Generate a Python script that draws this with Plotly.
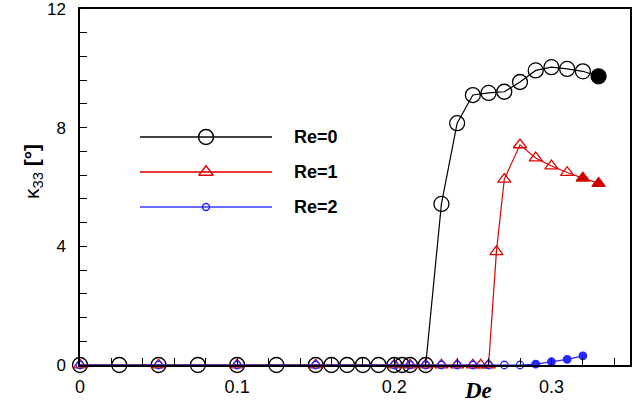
import plotly.graph_objects as go

# Deborah number sweep and twist angle kappa_33 for three Reynolds numbers
de_re0 = [0, 0.025, 0.05, 0.075, 0.1, 0.125, 0.15, 0.16, 0.17, 0.18, 0.19, 0.2,
          0.205, 0.21, 0.22, 0.23, 0.24, 0.25, 0.26, 0.27, 0.28, 0.29, 0.30,
          0.31, 0.32, 0.33]
k_re0 = [0, 0, 0, 0, 0, 0, 0, 0, 0, 0, 0, 0, 0, 0, 0, 5.43, 8.15, 9.10, 9.17,
         9.21, 9.54, 9.93, 10.04, 9.98, 9.90, 9.73]

de_re1 = [0, 0.05, 0.1, 0.15, 0.2, 0.21, 0.22, 0.23, 0.24, 0.25, 0.255, 0.26,
          0.265, 0.27, 0.28, 0.29, 0.30, 0.31, 0.32, 0.33]
k_re1 = [0, 0, 0, 0, 0, 0, 0, 0, 0, 0, 0, 0, 3.82, 6.26, 7.42, 6.98, 6.71,
         6.49, 6.30, 6.12]

de_re2 = [0, 0.05, 0.1, 0.15, 0.2, 0.21, 0.22, 0.23, 0.24, 0.25, 0.26, 0.27,
          0.28, 0.29, 0.30, 0.31, 0.32]
k_re2 = [0, 0, 0, 0, 0, 0, 0, 0, 0, 0, 0, 0, 0, 0.03, 0.11, 0.19, 0.31]

# points from this De onward are drawn with solid markers
solid_from = {"Re=0": 0.33, "Re=1": 0.32, "Re=2": 0.29}

legend_labels = ["Re=0", "Re=1", "Re=2"]
x_ticks = [0, 0.1, 0.2, 0.3]
x_tick_text = ["0", "0.1", "0.2", "0.3"]
y_ticks = [0, 4, 8, 12]
y_tick_text = ["0", "4", "8", "12"]

W, H = 640, 407
L, R, T, B = 80, 10, 9, 42

BLACK = "#000000"
RED = "#e00000"
RED_SOLID = "#cc0000"
BLUE = "#2626ff"

series = [
    dict(name="Re=0", x=de_re0, y=k_re0, color=BLACK, solid=BLACK,
         open_sym="circle-open", full_sym="circle", size=15, lw=1.2),
    dict(name="Re=1", x=de_re1, y=k_re1, color=RED, solid=RED_SOLID,
         open_sym="triangle-up-open", full_sym="triangle-up", size=11.5, lw=1.2),
    dict(name="Re=2", x=de_re2, y=k_re2, color=BLUE, solid=BLUE,
         open_sym="circle-open", full_sym="circle", size=7.5, lw=1.2),
]

fig = go.Figure()

for s in series:
    cut = solid_from[s["name"]]
    syms = [s["full_sym"] if v >= cut - 1e-9 else s["open_sym"] for v in s["x"]]
    cols = [s["solid"] if v >= cut - 1e-9 else s["color"] for v in s["x"]]
    fig.add_trace(go.Scatter(
        x=s["x"], y=s["y"], mode="lines+markers", name=s["name"],
        line=dict(color=s["color"], width=s["lw"]),
        marker=dict(symbol=syms, size=s["size"], color=cols,
                    line=dict(color=cols, width=1.3)),
        cliponaxis=False, showlegend=False,
    ))

# hand-placed legend on a pixel-space overlay (x: left->right, y: top->down)
leg_rows = [137, 172, 207]
leg_x0, leg_x1, leg_mid, leg_text = 140, 272, 206, 292
leg_line_cols = ["#444444", "#e83a3a", "#3a3aff"]
leg_line_w = [1.8, 2.0, 1.5]
leg_sizes = [15, 12.5, 7]
leg_syms = ["circle-open", "triangle-up-open", "circle-open"]
for i, s in enumerate(series):
    yy = leg_rows[i]
    fig.add_trace(go.Scatter(
        x=[leg_x0, leg_x1], y=[yy, yy], mode="lines", xaxis="x2", yaxis="y2",
        line=dict(color=leg_line_cols[i], width=leg_line_w[i]),
        showlegend=False, hoverinfo="skip"))
    fig.add_trace(go.Scatter(
        x=[leg_mid], y=[yy], mode="markers", xaxis="x2", yaxis="y2",
        marker=dict(symbol=leg_syms[i], size=leg_sizes[i], color=s["color"],
                    line=dict(color=s["color"], width=1.5)),
        showlegend=False, hoverinfo="skip"))
    fig.add_annotation(
        x=leg_text, y=yy, xref="x2", yref="y2", text="<b>%s</b>" % legend_labels[i],
        showarrow=False, xanchor="left", yanchor="middle",
        font=dict(family="Liberation Sans, Arial", size=18, color="#000"))

axis_common = dict(
    showline=True, linecolor="#000", linewidth=1.5, mirror=True,
    ticks="inside", ticklen=7, tickwidth=1.3, tickcolor="#000",
    showgrid=False, zeroline=False, automargin=False,
    ticklabeloverflow="allow",
)

pw, ph = W - L - R, H - T - B

fig.update_layout(
    width=W, height=H,
    margin=dict(l=L, r=R, t=T, b=B, pad=0, autoexpand=False),
    paper_bgcolor="white", plot_bgcolor="white",
    showlegend=False,
    xaxis=dict(range=[0, 0.35], tickvals=x_ticks, ticktext=x_tick_text,
               minor=dict(dtick=0.02, tick0=0, ticks="inside", ticklen=7,
                          tickwidth=1.3, tickcolor="#000"),
               ticklabelstandoff=5,
               tickfont=dict(family="Liberation Sans, Arial", size=18, color="#000"),
               **axis_common),
    yaxis=dict(range=[0, 12], tickvals=y_ticks, ticktext=y_tick_text,
               minor=dict(dtick=0.8, tick0=0, ticks="inside", ticklen=7,
                          tickwidth=1.3, tickcolor="#000"),
               ticklabelstandoff=9,
               tickfont=dict(family="Liberation Sans, Arial", size=17, color="#000"),
               **axis_common),
    xaxis2=dict(range=[L, L + pw], overlaying="x", visible=False),
    yaxis2=dict(range=[T + ph, T], overlaying="y", visible=False),
)

# axis titles
fig.add_annotation(
    x=(33 - L) / pw, y=(T + ph - 172) / ph, xref="paper", yref="paper",
    xanchor="center", yanchor="middle",
    text="κ<sub>33</sub> <b>[°]</b>", textangle=-90, showarrow=False,
    font=dict(family="Liberation Sans, Arial", size=21, color="#000"))
fig.add_annotation(
    x=(478 - L) / pw, y=(T + ph - 390) / ph, xref="paper", yref="paper",
    xanchor="center", yanchor="middle",
    text="<b><i>De</i></b>", showarrow=False,
    font=dict(family="Liberation Serif, Times New Roman", size=23, color="#000"))

fig.write_html("out.html")
